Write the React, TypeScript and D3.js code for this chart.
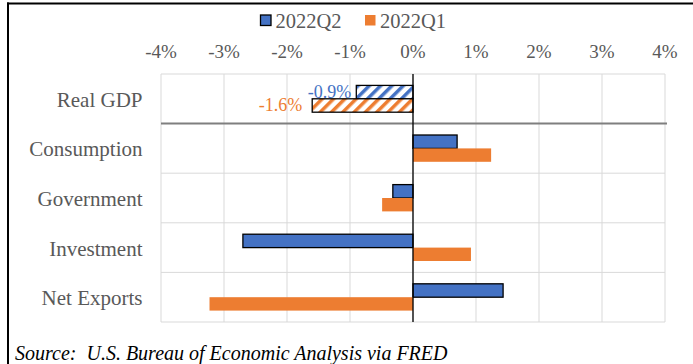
import { useMemo } from "react";
import * as d3 from "d3";

const WIDTH = 693;
const HEIGHT = 364;
const PLOT = { left: 161, right: 665, top: 74, bottom: 322 };

const categories = ["Real GDP", "Consumption", "Government", "Investment", "Net Exports"];
const seriesNames = ["2022Q2", "2022Q1"];
const q2Values = [-0.9, 0.7, -0.32, -2.7, 1.43];
const q1Values = [-1.6, 1.24, -0.49, 0.92, -3.23];
const tickValues = [-4, -3, -2, -1, 0, 1, 2, 3, 4];

const COLORS = ["#4472C4", "#ED7D31"];
const TEXT_GRAY = "#595959";
const FONT = "'Liberation Serif', 'Times New Roman', serif";

export default function App() {
  const xScale = useMemo(
    () => d3.scaleLinear().domain([-4, 4]).range([PLOT.left, PLOT.right]),
    []
  );
  const yScale = useMemo(
    () => d3.scaleBand().domain(categories).range([PLOT.top, PLOT.bottom]).padding(0),
    []
  );
  const subScale = useMemo(() => {
    const bw = yScale.bandwidth();
    return d3
      .scaleBand()
      .domain(seriesNames)
      .range([bw * 0.23, bw * 0.77])
      .padding(0);
  }, [yScale]);

  const series = [q2Values, q1Values];

  const grid = (
    <g>
      {tickValues.map((v) => (
        <line
          key={"v" + v}
          x1={xScale(v)}
          x2={xScale(v)}
          y1={PLOT.top}
          y2={PLOT.bottom}
          stroke="#D9D9D9"
          strokeWidth={1}
        />
      ))}
      {categories.map((c, i) => (
        <line
          key={"h" + c}
          x1={PLOT.left}
          x2={PLOT.right}
          y1={yScale(c)!}
          y2={yScale(c)!}
          stroke={i === 1 ? "none" : "#D9D9D9"}
          strokeWidth={1}
        />
      ))}
      <line
        x1={PLOT.left}
        x2={PLOT.right}
        y1={PLOT.bottom}
        y2={PLOT.bottom}
        stroke="#D9D9D9"
      />
    </g>
  );

  const bars = categories.map((c, i) => {
    const y0 = yScale(c)!;
    return (
      <g key={c}>
        {series.map((vals, s) => {
          const v = vals[i];
          const x = Math.min(xScale(0), xScale(v));
          const w = Math.abs(xScale(v) - xScale(0));
          const y = y0 + subScale(seriesNames[s])!;
          const h = subScale.bandwidth();
          const hatched = i === 0;
          return (
            <rect
              key={s}
              x={x}
              y={y}
              width={w}
              height={h}
              fill={hatched ? `url(#hatch${s})` : COLORS[s]}
              stroke={hatched || s === 0 ? "#000" : "none"}
              strokeWidth={hatched || s === 0 ? 1.3 : 0}
            />
          );
        })}
      </g>
    );
  });

  const gdpLabels = series.map((vals, s) => {
    const v = vals[0];
    const y = yScale(categories[0])! + subScale(seriesNames[s])! + subScale.bandwidth() / 2;
    return (
      <text
        key={s}
        x={xScale(v) - (s === 0 ? 5 : 10)}
        y={y}
        textAnchor="end"
        dominantBaseline="central"
        fontSize={18}
        fill={COLORS[s]}
        fontFamily={FONT}
      >
        {v.toFixed(1)}%
      </text>
    );
  });

  return (
    <svg
      width={WIDTH}
      height={HEIGHT}
      style={{ position: "absolute", left: 0, top: 0, background: "#fff" }}
    >
      <defs>
        {COLORS.map((col, s) => (
          <pattern
            key={s}
            id={`hatch${s}`}
            width={8}
            height={8}
            patternUnits="userSpaceOnUse"
            patternTransform="rotate(45)"
          >
            <rect width={8} height={8} fill="#fff" />
            <rect width={3.5} height={8} fill={col} />
          </pattern>
        ))}
      </defs>

      {/* outer frame */}
      <line x1={7} x2={WIDTH} y1={3.5} y2={3.5} stroke="#000" strokeWidth={2} />
      <line x1={8} x2={8} y1={2.5} y2={HEIGHT} stroke="#000" strokeWidth={2} />

      {grid}

      {/* separator under Real GDP */}
      <line
        x1={PLOT.left}
        x2={PLOT.right + 2}
        y1={yScale(categories[1])!}
        y2={yScale(categories[1])!}
        stroke="#7F7F7F"
        strokeWidth={2}
      />

      {bars}

      {/* zero line */}
      <line
        x1={xScale(0)}
        x2={xScale(0)}
        y1={PLOT.top}
        y2={PLOT.bottom}
        stroke="#000"
        strokeWidth={1.3}
      />

      {gdpLabels}

      {/* x tick labels on top */}
      {tickValues.map((v) => (
        <text
          key={v}
          x={xScale(v)}
          y={51}
          textAnchor="middle"
          dominantBaseline="central"
          fontSize={19}
          fill={TEXT_GRAY}
          fontFamily={FONT}
        >
          {v}%
        </text>
      ))}

      {/* category labels */}
      {categories.map((c) => (
        <text
          key={c}
          x={142.5}
          y={yScale(c)! + yScale.bandwidth() / 2 + 1}
          textAnchor="end"
          dominantBaseline="central"
          fontSize={21}
          fill={TEXT_GRAY}
          fontFamily={FONT}
        >
          {c}
        </text>
      ))}

      {/* legend */}
      {seriesNames.map((name, s) => {
        const lx = s === 0 ? 260.5 : 365;
        return (
          <g key={name}>
            <rect
              x={lx}
              y={15}
              width={10.5}
              height={10.5}
              fill={COLORS[s]}
              stroke={s === 0 ? "#000" : "none"}
              strokeWidth={1.3}
            />
            <text
              x={lx + 15}
              y={20.5}
              dominantBaseline="central"
              fontSize={20.5}
              fill={TEXT_GRAY}
              fontFamily={FONT}
            >
              {name}
            </text>
          </g>
        );
      })}

      {/* source */}
      <text
        x={15}
        y={353}
        dominantBaseline="central"
        fontSize={20}
        fontStyle="italic"
        fill="#000"
        fontFamily={FONT}
        style={{ whiteSpace: "pre" }}
      >
        {"Source:  U.S. Bureau of Economic Analysis via FRED"}
      </text>
    </svg>
  );
}
